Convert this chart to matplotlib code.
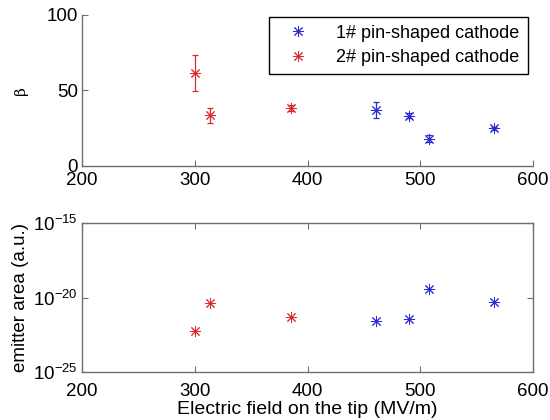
import matplotlib
matplotlib.use("Agg")
import matplotlib.pyplot as plt
import numpy as np

plt.rcParams['font.family'] = ['Liberation Sans', 'DejaVu Sans']
plt.rcParams['mathtext.fontset'] = 'custom'
plt.rcParams['mathtext.rm'] = 'Liberation Sans'

# Data
field_1 = [460.5, 490, 508, 565]
beta_1 = [37.1, 33.3, 18.1, 25.0]
beta_err_1 = [5, 1.5, 2.5, 1.0]
area_1 = [2.5e-22, 3.6e-22, 3.7e-20, 5.2e-21]

field_2 = [300, 313.5, 385.5]
beta_2 = [61.4, 33.6, 38.2]
beta_err_2 = [12, 5, 2]
area_2 = [5.9e-23, 4.3e-21, 4.9e-22]

labels = ['1# pin-shaped cathode', '2# pin-shaped cathode']
x_ticks = [200, 300, 400, 500, 600]
beta_ticks = [0, 50, 100]
area_ticks = [1e-25, 1e-20, 1e-15]
area_ticklabels = [r'$\mathregular{10^{-25}}$', r'$\mathregular{10^{-20}}$', r'$\mathregular{10^{-15}}$']

blue = '#2a2ad0'
red = '#dc2a2a'
spine_c = '#707070'
fs = 13.5
marker = (8, 2, 0)
ms = 8
mew = 0.7

fig = plt.figure(figsize=(5.5, 4.2), dpi=100)
ax1 = fig.add_axes([82/550, 1-166/420, 451/550, 151/420])
ax2 = fig.add_axes([82/550, 1-372/420, 451/550, 149/420])

# Top plot
ax1.errorbar(field_1, beta_1, yerr=beta_err_1, fmt='none', ecolor=blue, elinewidth=0.9, capsize=2, capthick=0.9)
ax1.errorbar(field_2, beta_2, yerr=beta_err_2, fmt='none', ecolor=red, elinewidth=0.9, capsize=2, capthick=0.9)
ax1.plot(field_1, beta_1, linestyle='none', marker=marker, markersize=ms, color=blue,
         markeredgewidth=mew, label=labels[0])
ax1.plot(field_2, beta_2, linestyle='none', marker=marker, markersize=ms, color=red,
         markeredgewidth=mew, label=labels[1])
ax1.set_xlim(200, 600)
ax1.set_ylim(0, 100)
ax1.set_xticks(x_ticks)
ax1.set_yticks(beta_ticks)
ax1.spines['top'].set_visible(False)
ax1.spines['right'].set_visible(False)
for s in ['left', 'bottom']:
    ax1.spines[s].set_color(spine_c)
    ax1.spines[s].set_linewidth(1.0)
ax1.tick_params(direction='in', length=4, width=0.8, color=spine_c, labelsize=fs, pad=3)
ax1.tick_params(axis='x', pad=4)
ax1.set_ylabel('β', fontsize=11, family='DejaVu Serif', labelpad=13)
leg = ax1.legend(loc='upper right', bbox_to_anchor=(0.988, 0.99), fontsize=13,
                 frameon=True, fancybox=False, edgecolor='black', framealpha=1,
                 handlelength=2.4, handletextpad=0.9, borderpad=0.45, labelspacing=0.4,
                 borderaxespad=0.0)
leg.get_frame().set_linewidth(1.0)

# Bottom plot
ax2.plot(field_1, area_1, linestyle='none', marker=marker, markersize=ms, color=blue, markeredgewidth=mew)
ax2.plot(field_2, area_2, linestyle='none', marker=marker, markersize=ms, color=red, markeredgewidth=mew)
ax2.set_yscale('log')
ax2.set_xlim(200, 600)
ax2.set_ylim(1e-25, 1e-15)
ax2.set_xticks(x_ticks)
ax2.set_yticks(area_ticks)
ax2.set_yticklabels(area_ticklabels)
ax2.yaxis.set_minor_locator(matplotlib.ticker.NullLocator())
for s in ax2.spines.values():
    s.set_color(spine_c)
    s.set_linewidth(1.0)
ax2.tick_params(direction='in', length=4, width=0.8, color=spine_c, labelsize=fs, pad=3,
                right=True, top=True)
ax2.tick_params(axis='x', pad=8)
ax2.set_ylabel('emitter area (a.u.)', fontsize=fs, labelpad=3)
ax2.set_xlabel('Electric field on the tip (MV/m)', fontsize=14, labelpad=1)

fig.savefig('out.png', dpi=100)
